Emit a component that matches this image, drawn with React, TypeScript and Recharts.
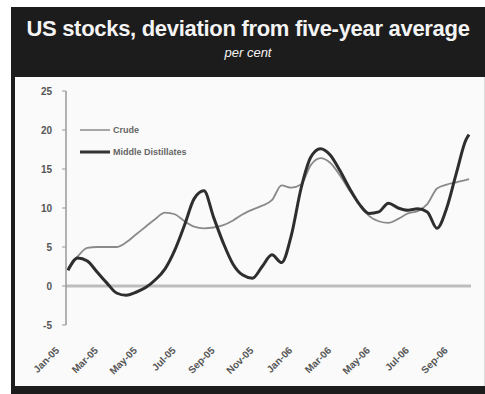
import { LineChart, Line, XAxis, YAxis, ReferenceLine } from 'recharts';

// semi-monthly samples, month index 0 = Jan-05
const months = [
  0, 0.5, 1, 1.5, 2, 2.5, 3, 3.5, 4, 4.5, 5, 5.5, 6, 6.5, 7, 7.5, 8, 8.5, 9, 9.5,
  10, 10.5, 11, 11.5, 12, 12.5, 13, 13.5, 14, 14.5, 15, 15.5, 16, 16.5, 17, 17.5,
  18, 18.5, 19, 19.5, 20, 20.5, 20.65,
];

const crude = [
  2.3, 3.8, 4.9, 5.0, 5.0, 5.0, 5.6, 6.6, 7.6, 8.6, 9.4, 9.2, 8.3, 7.6, 7.4, 7.5,
  7.8, 8.4, 9.2, 9.8, 10.3, 11.0, 12.9, 12.6, 13.0, 15.5, 16.4, 15.8, 14.2, 12.2,
  10.5, 9.0, 8.3, 8.1, 8.6, 9.3, 9.6, 10.5, 12.5, 13.0, 13.3, 13.6, 13.7,
];

const distillates = [
  2.0, 3.6, 3.2, 1.8, 0.4, -0.9, -1.2, -0.8, -0.2, 0.8, 2.2, 4.6, 7.8, 11.2, 12.2,
  8.8, 5.5, 2.8, 1.4, 1.0, 2.5, 4.0, 3.0, 6.5, 12.5, 16.5, 17.6, 16.8, 14.8, 12.5,
  10.5, 9.3, 9.5, 10.6, 10.0, 9.7, 9.9, 9.5, 7.4, 10.0, 14.5, 18.8, 19.4,
];

const tickMonths = [0, 2, 4, 6, 8, 10, 12, 14, 16, 18, 20];
const tickLabels = [
  'Jan-05', 'Mar-05', 'May-05', 'Jul-05', 'Sep-05', 'Nov-05',
  'Jan-06', 'Mar-06', 'May-06', 'Jul-06', 'Sep-06',
];
const yTicks = [-5, 0, 5, 10, 15, 20, 25];

const data = months.map((m, i) => ({ m, crude: crude[i], dist: distillates[i] }));

const FONT = '"Liberation Sans", Arial, sans-serif';

function MonthTick({ x, payload }: any) {
  const idx = tickMonths.indexOf(payload.value);
  const ax = x - 8;
  const ay = 351;
  return (
    <text
      x={ax}
      y={ay}
      transform={`rotate(-45 ${ax} ${ay})`}
      textAnchor="end"
      fontSize={10}
      fontWeight="bold"
      fontFamily={FONT}
      fill="#555"
    >
      {tickLabels[idx]}
    </text>
  );
}

function LegendBox() {
  return (
    <svg width={170} height={40} style={{ position: 'absolute', left: 78, top: 123 }}>
      <line x1={2} y1={7} x2={32} y2={7} stroke="#8a8a8a" strokeWidth={1.5} />
      <text x={35} y={10} fontSize={9} fontWeight="bold" fontFamily={FONT} fill="#666">Crude</text>
      <line x1={2} y1={29} x2={32} y2={29} stroke="#333" strokeWidth={3} />
      <text x={35} y={32} fontSize={9} fontWeight="bold" fontFamily={FONT} fill="#666">Middle Distillates</text>
    </svg>
  );
}

export default function App() {
  return (
    <div style={{ position: 'absolute', left: 0, top: 0, width: 485, height: 394, background: '#fff', overflow: 'hidden' }}>
      <div
        style={{
          position: 'absolute', left: 11, top: 7, width: 474, height: 70,
          background: '#1c1c1c', color: '#f4f4f4', fontFamily: FONT, textAlign: 'center',
        }}
      >
        <div style={{ fontSize: 22, fontWeight: 'bold', marginTop: 9, letterSpacing: -0.3 }}>
          US stocks, deviation from five-year average
        </div>
        <div style={{ fontSize: 13, fontStyle: 'italic', marginTop: 3 }}>per cent</div>
      </div>
      <div
        style={{
          position: 'absolute', left: 11, top: 77, width: 469, height: 309,
          background: '#fafafa', borderLeft: '4px solid #1c1c1c', borderRight: '1px solid #ddd',
        }}
      />
      <div style={{ position: 'absolute', left: 11, top: 386, width: 474, height: 8, background: '#1c1c1c' }} />
      <LegendBox />
      <div style={{ position: 'absolute', left: 0, top: 0 }}>
        <LineChart width={485} height={394} data={data} margin={{ top: 91, right: 14, bottom: 39, left: 26 }}>
          <XAxis
            dataKey="m"
            type="number"
            domain={[-0.1, 20.75]}
            ticks={tickMonths}
            tick={<MonthTick />}
            axisLine={false}
            tickLine={false}
            interval={0}
            height={30}
          />
          <YAxis
            type="number"
            domain={[-5, 25]}
            ticks={yTicks}
            width={40}
            axisLine={{ stroke: '#999', strokeWidth: 1.5 }}
            tickLine={{ stroke: '#999' }}
            tickSize={4}
            tickMargin={10}
            tick={{ fontSize: 10, fontWeight: 'bold', fontFamily: FONT, fill: '#555' }}
          />
          <ReferenceLine y={0} stroke="#bdbdbd" strokeWidth={3} />
          <Line
            type="monotone"
            dataKey="crude"
            stroke="#8a8a8a"
            strokeWidth={1.8}
            dot={false}
            isAnimationActive={false}
          />
          <Line
            type="monotone"
            dataKey="dist"
            stroke="#2e2e2e"
            strokeWidth={3}
            dot={false}
            isAnimationActive={false}
          />
        </LineChart>
      </div>
    </div>
  );
}
